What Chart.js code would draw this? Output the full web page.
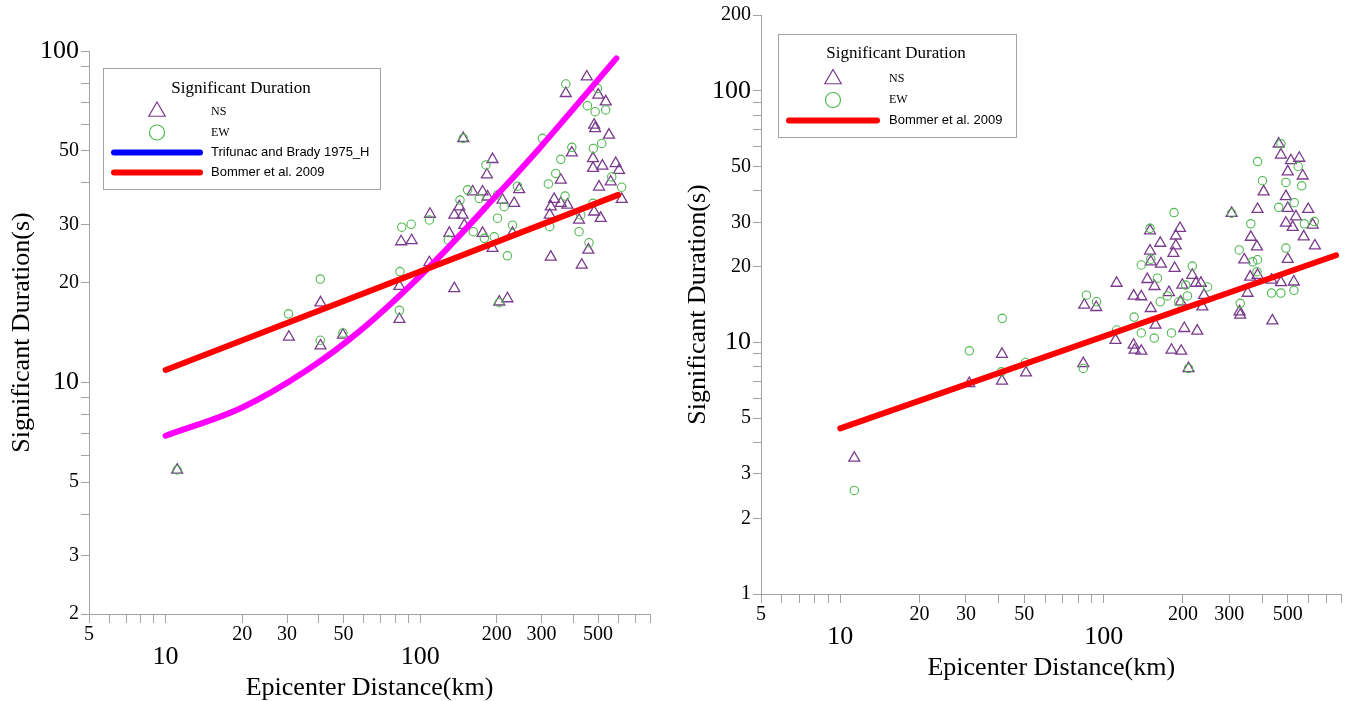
<!DOCTYPE html>
<html>
<head>
<meta charset="utf-8">
<title>Significant Duration vs Epicenter Distance</title>
<script src="https://cdn.jsdelivr.net/npm/chart.js@4.4.0/dist/chart.umd.min.js"></script>
<style>
  html, body { margin: 0; padding: 0; background: #fff; }
  canvas { position: absolute; top: 0; }
  #leftChart { left: 0; }
  #rightChart { left: 676px; }
</style>
</head>
<body>
<canvas id="leftChart" width="676" height="701"></canvas>
<canvas id="rightChart" width="676" height="701"></canvas>
<script>
// Axis ticks (log axes)
const xTickMarks = [5, 6, 7, 8, 9, 10, 20, 30, 40, 50, 60, 70, 80, 90, 100, 200, 300, 400, 500, 600, 700, 800];
const xTickLabels = [5, 10, 20, 30, 50, 100, 200, 300, 500];
const bigLabels = [10, 100];
const leftYTickMarks = [2, 3, 4, 5, 6, 7, 8, 9, 10, 20, 30, 40, 50, 60, 70, 80, 90, 100];
const leftYTickLabels = [2, 3, 5, 10, 20, 30, 50, 100];
const rightYTickMarks = [1, 2, 3, 4, 5, 6, 7, 8, 9, 10, 20, 30, 40, 50, 60, 70, 80, 90, 100, 200];
const rightYTickLabels = [1, 2, 3, 5, 10, 20, 30, 50, 100, 200];

// Left chart - NS
const leftNsDist = [11.1, 30.5, 40.6, 40.6, 49.7, 82.9, 82.9, 84.2, 92.6, 108.7, 109.3, 130.2, 136.2, 136.2,
  451.6, 373.5, 501, 536, 482.6, 487, 552, 147.7, 394.4, 477.7, 477.7, 520, 586.6, 604.4, 192.5, 183,
  357, 560.7, 504.6, 619.4, 160.7, 175.9, 184, 234.1, 245, 210.7, 336, 357, 379, 326, 323, 421, 512,
  482.6, 142.5, 146.8, 149.1, 175.9, 230.6, 192.5, 326, 458, 431.5, 204.6, 220.3];
const leftNsDur = [5.44, 13.7, 12.9, 17.4, 13.9, 19.5, 15.5, 26.6, 26.8, 23, 32.2, 28.2, 19.2, 32,
  83.6, 74.5, 73.7, 70.3, 59.8, 58.4, 55.8, 54.5, 49.3, 47.4, 44.3, 45, 45.8, 43.7, 47.1, 42.3,
  40.8, 40.3, 38.9, 35.7, 37.6, 37.6, 36.3, 34.7, 38.2, 35.5, 35.7, 34.7, 34.3, 33.9, 32, 30.9, 31.3,
  32.7, 33.9, 32, 29.8, 28.2, 28.2, 25.4, 23.9, 25.1, 22.6, 17.5, 17.9];

// Left chart - EW
const leftEwDist = [11.1, 30.4, 40.5, 40.5, 49.7, 82.9, 83.3, 84.7, 92.2, 108.7, 129, 373.5, 497, 454, 487,
  536, 302.4, 394.4, 479, 517, 357, 181.4, 341, 319, 371, 566, 619, 241.3, 153.6, 143.4, 170.7, 201.4,
  213.9, 201.4, 323, 427.6, 477.7, 421, 461, 161.7, 178.7, 230.6, 195.5, 220.3, 204.6, 147.7];
const leftEwDur = [5.44, 16.1, 20.5, 13.4, 14.1, 16.5, 21.6, 29.4, 30, 30.9, 26.9, 79.5, 77.1, 68.4, 65.6,
  66.4, 54.5, 51.2, 50.8, 52.6, 47.1, 45.3, 42.7, 39.7, 36.5, 41.7, 38.8, 39.1, 38.1, 35.5, 35.9, 36.8,
  33.9, 31.3, 29.5, 32, 34.7, 28.5, 26.4, 28.5, 27.2, 29.8, 27.5, 24.1, 17.4, 54.5];

// Left chart - model curves
const leftTrifunacDist = [10, 20, 36, 58, 108, 202, 295, 590];
const leftTrifunacDur = [6.9, 8.4, 10.9, 14.3, 22.2, 37, 51, 95];
const leftBommerDist = [10, 600];
const leftBommerDur = [10.9, 36.8];

// Right chart - NS
const rightNsDist = [11.3, 30.9, 41.1, 41.1, 50.7, 83.7, 131, 139, 181, 197, 210, 84.4, 93.7, 110.9, 129.9,
  226.6, 157.4, 202.4, 330, 328, 437, 434, 462, 471, 514, 553, 500, 570, 405, 492, 384, 500, 598, 537,
  492, 522, 622, 575, 634, 306, 362, 382, 500, 342, 360, 384, 527, 471, 352, 150, 195, 188, 164, 188,
  150, 184, 151, 165, 186, 217, 234, 112, 146.5, 156, 130, 139, 177, 199, 224, 240.5, 151, 196, 237];
const rightNsDur = [3.47, 6.87, 8.98, 7.03, 7.57, 8.25, 9.32, 9.24, 9.32, 9.24, 7.88, 14.07, 13.78, 10.2, 9.76,
  11.1, 11.72, 11.37, 12.84, 13.24, 12.19, 17.7, 61.5, 55.6, 52.8, 54.0, 47.7, 45.9, 39.7, 38.0, 33.8, 34.1, 33.8, 31.6,
  29.8, 28.7, 29.3, 26.3, 24.2, 32.6, 26.2, 24.0, 21.4, 21.3, 18.2, 18.5, 17.4, 17.3, 15.7, 27.8, 28.4, 26.5, 24.8, 24.2,
  23.1, 22.6, 20.9, 20.5, 19.7, 18.5, 17.2, 17.2, 17.8, 16.7, 15.3, 15.2, 15.8, 16.9, 17.2, 15.4, 13.65, 14.5, 13.86];

// Right chart - EW
const rightEwDist = [11.3, 30.9, 40.9, 50.5, 41.2, 83.7, 210, 112, 139, 155.6, 181, 130.5, 434, 528, 471, 384,
  401, 492, 565, 548, 529, 462, 578, 631, 362, 492, 327, 384, 185, 150, 139, 151, 217, 160, 205, 248, 86, 94,
  174.5, 193, 208, 164, 330, 471, 382, 368, 306];
const rightEwDur = [2.58, 9.26, 7.64, 8.32, 12.46, 7.88, 7.88, 11.2, 10.9, 10.4, 10.9, 12.6, 15.7, 16.1, 61.5, 52.3,
  43.9, 43.2, 41.9, 50.0, 35.9, 34.4, 29.6, 30.2, 29.6, 23.7, 23.3, 21.3, 32.8, 28.4, 20.3, 21.4, 20.1, 18.0, 16.9, 16.6, 15.4, 14.5,
  15.3, 14.5, 15.3, 14.5, 14.3, 15.7, 19.1, 20.9, 32.6];

// Right chart - model line
const rightBommerDist = [10, 763];
const rightBommerDur = [4.55, 22.2];

const serif = '"Liberation Serif", "Times New Roman", serif';
const sans = '"Liberation Sans", Arial, sans-serif';
const axisColor = '#a3a3a3';
const nsColor = '#7a3b8c';
const ewColor = '#4fb94f';

const pts = (xs, ys) => xs.map((x, i) => ({ x: x, y: ys[i] }));

function nsSet(xs, ys) {
  return {
    label: 'NS', data: pts(xs, ys), legendRow: 0, legendRadius: 9.5,
    pointStyle: 'triangle', pointRadius: 6.3, pointHoverRadius: 6.3, pointBorderWidth: 1.3,
    borderColor: nsColor, pointBorderColor: nsColor, pointBackgroundColor: 'rgba(0,0,0,0)', order: 4
  };
}
function ewSet(xs, ys) {
  return {
    label: 'EW', data: pts(xs, ys), legendRow: 1, legendRadius: 7.5,
    pointStyle: 'circle', pointRadius: 4.2, pointHoverRadius: 4.2, pointBorderWidth: 1.1,
    borderColor: ewColor, pointBorderColor: ewColor, pointBackgroundColor: 'rgba(0,0,0,0)', order: 3
  };
}
function lineSet(label, xs, ys, color, row, order, legendColor) {
  return {
    type: 'line', label: label, data: pts(xs, ys), legendRow: row, legendColor: legendColor,
    showLine: true, borderColor: color, borderWidth: 6, borderCapStyle: 'round', borderJoinStyle: 'round',
    pointRadius: 0, pointHoverRadius: 0, fill: false, cubicInterpolationMode: 'monotone', order: order
  };
}

// Legend in a box, drawn from the datasets
const boxLegend = {
  id: 'boxLegend',
  afterDraw(chart, args, o) {
    const ctx = chart.ctx;
    ctx.save();
    ctx.lineWidth = 1;
    ctx.strokeStyle = axisColor;
    ctx.strokeRect(o.left + 0.5, o.top + 0.5, o.width, o.height);
    ctx.fillStyle = '#000';
    ctx.textBaseline = 'middle';
    ctx.textAlign = 'center';
    ctx.font = '17px ' + serif;
    ctx.fillText(o.title, o.titleX, o.titleY);
    ctx.textAlign = 'left';
    chart.data.datasets.forEach(ds => {
      if (ds.legendRow === undefined) return;
      const y = o.rowY[ds.legendRow];
      if (ds.showLine) {
        ctx.strokeStyle = ds.legendColor || ds.borderColor;
        ctx.lineWidth = 6;
        ctx.lineCap = 'round';
        ctx.beginPath();
        ctx.moveTo(o.lineFrom, y);
        ctx.lineTo(o.lineTo, y);
        ctx.stroke();
        ctx.font = '13px ' + sans;
      } else {
        const r = ds.legendRadius;
        ctx.strokeStyle = ds.borderColor;
        ctx.lineWidth = 1.2;
        ctx.beginPath();
        if (ds.pointStyle === 'triangle') {
          ctx.moveTo(o.markX, y - r);
          ctx.lineTo(o.markX + r * 0.866, y + r / 2);
          ctx.lineTo(o.markX - r * 0.866, y + r / 2);
          ctx.closePath();
        } else {
          ctx.arc(o.markX, y, r, 0, Math.PI * 2);
        }
        ctx.stroke();
        ctx.font = '12px ' + serif;
      }
      ctx.fillStyle = '#000';
      ctx.fillText(ds.label, o.textX, y);
    });
    ctx.restore();
  }
};

function xAxis(height, titlePad) {
  return {
    type: 'logarithmic', position: 'bottom', min: 5, max: 800,
    afterBuildTicks: s => { s.ticks = xTickMarks.map(v => ({ value: v })); },
    afterFit: s => { s.height = height; },
    border: { display: true, color: axisColor, width: 1 },
    grid: { drawOnChartArea: false, drawTicks: true, tickLength: 9, tickColor: axisColor },
    ticks: {
      autoSkip: false, maxRotation: 0, minRotation: 0, padding: 3, color: '#000',
      callback: v => !xTickLabels.includes(v) ? '' : (bigLabels.includes(v) ? ['', String(v)] : String(v)),
      font: c => (c.tick && bigLabels.includes(c.tick.value))
        ? { family: serif, size: 26, lineHeight: 0.8 }
        : { family: serif, size: 20, lineHeight: 0.9 }
    },
    title: {
      display: true, text: 'Epicenter Distance(km)', color: '#000',
      font: { family: serif, size: 26, lineHeight: 1 }, padding: { top: 0, bottom: titlePad }
    }
  };
}

function yAxis(min, max, marks, labels, width) {
  return {
    type: 'logarithmic', position: 'left', min: min, max: max,
    afterBuildTicks: s => { s.ticks = marks.map(v => ({ value: v })); },
    afterFit: s => { s.width = width; },
    border: { display: true, color: axisColor, width: 1 },
    grid: { drawOnChartArea: false, drawTicks: true, tickLength: 8, tickColor: axisColor },
    ticks: {
      autoSkip: false, padding: 2, color: '#000',
      callback: v => labels.includes(v) ? String(v) : '',
      font: c => (c.tick && bigLabels.includes(c.tick.value))
        ? { family: serif, size: 26 }
        : { family: serif, size: 20 }
    },
    title: {
      display: true, text: 'Significant Duration(s)', color: '#000',
      font: { family: serif, size: 26, lineHeight: 1 }, padding: { top: 9, bottom: 0 }
    }
  };
}

function makeChart(id, datasets, scales, padding, legend) {
  return new Chart(document.getElementById(id), {
    type: 'scatter',
    data: { datasets: datasets },
    options: {
      responsive: false,
      animation: false,
      layout: { padding: padding },
      scales: scales,
      plugins: {
        legend: { display: false },
        tooltip: { enabled: false },
        boxLegend: legend
      }
    },
    plugins: [boxLegend]
  });
}

makeChart('leftChart', [
  nsSet(leftNsDist, leftNsDur),
  ewSet(leftEwDist, leftEwDur),
  lineSet('Trifunac and Brady 1975_H', leftTrifunacDist, leftTrifunacDur, '#ff00ff', 2, 2, '#0000ff'),
  lineSet('Bommer et al. 2009', leftBommerDist, leftBommerDur, '#ff0000', 3, 1)
], {
  x: xAxis(87, 0),
  y: yAxis(2, 100, leftYTickMarks, leftYTickLabels, 89)
}, { left: 0, top: 51, right: 26, bottom: 0 }, {
  title: 'Significant Duration',
  left: 103, top: 68, width: 277, height: 121,
  titleX: 241, titleY: 89,
  rowY: [111.5, 132.5, 152.5, 172.5],
  markX: 157, lineFrom: 114, lineTo: 200, textX: 211
});

makeChart('rightChart', [
  nsSet(rightNsDist, rightNsDur),
  ewSet(rightEwDist, rightEwDur),
  lineSet('Bommer et al. 2009', rightBommerDist, rightBommerDur, '#ff0000', 2, 1)
], {
  x: xAxis(107, 20),
  y: yAxis(1, 200, rightYTickMarks, rightYTickLabels, 85)
}, { left: 0, top: 15, right: 10.5, bottom: 0 }, {
  title: 'Significant Duration',
  left: 102, top: 34, width: 238, height: 103,
  titleX: 220, titleY: 54,
  rowY: [79, 100, 120.5],
  markX: 157, lineFrom: 113, lineTo: 201, textX: 213
});
</script>
</body>
</html>
